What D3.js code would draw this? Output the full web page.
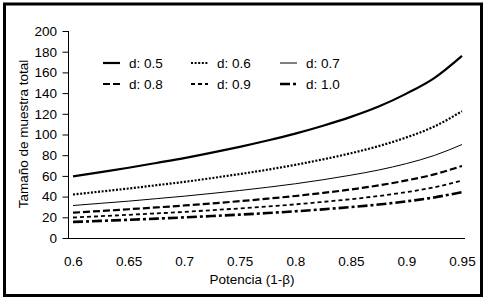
<!DOCTYPE html>
<html>
<head>
<meta charset="utf-8">
<script src="https://cdn.jsdelivr.net/npm/d3@7"></script>
<style>
  html, body { margin: 0; padding: 0; background: #fff; }
  svg { display: block; }
  text { font-family: "Liberation Sans", Arial, sans-serif; fill: #000; }
</style>
</head>
<body>
<svg id="chart" width="488" height="302"></svg>
<script>
// ---- data ----
const power = [0.6, 0.625, 0.65, 0.675, 0.7, 0.725, 0.75, 0.775, 0.8, 0.825, 0.85, 0.875, 0.9, 0.925, 0.95];
const xTicks = [0.6, 0.65, 0.7, 0.75, 0.8, 0.85, 0.9, 0.95];
const xTickLabels = ["0.6", "0.65", "0.7", "0.75", "0.8", "0.85", "0.9", "0.95"];
const yTicks = [0, 20, 40, 60, 80, 100, 120, 140, 160, 180, 200];
const seriesNames = ["d: 0.5", "d: 0.6", "d: 0.7", "d: 0.8", "d: 0.9", "d: 1.0"];
const d05 = [59.6, 63.7, 67.9, 72.5, 77.2, 82.5, 88.1, 94.2, 100.9, 108.5, 117, 127, 139.5, 154.5, 176];
const d06 = [42, 44.9, 47.8, 51, 54.2, 57.9, 61.8, 66, 70.7, 76, 81.9, 88.8, 97.2, 107.7, 122.5];
const d07 = [31.4, 33.5, 35.6, 38, 40.4, 43.1, 45.9, 49, 52.4, 56.3, 60.7, 65.7, 71.9, 79.7, 90.3];
const d08 = [24.5, 26.1, 27.8, 29.5, 31.4, 33.4, 35.6, 38, 40.6, 43.6, 46.9, 50.8, 55.6, 61.5, 69.6];
const d09 = [19.8, 21.1, 22.4, 23.8, 25.2, 26.9, 28.6, 30.5, 32.5, 34.9, 37.5, 40.6, 44.3, 49, 55.4];
const d10 = [15.5, 16.5, 17.6, 18.7, 19.9, 21.2, 22.6, 24.1, 25.8, 27.7, 29.9, 32.3, 35.4, 39.2, 44.4];
const seriesValues = [d05, d06, d07, d08, d09, d10];

// ---- styles ----
const styles = [
  { w: 2.2, dash: null },
  { w: 2.2, dash: "2,1.6" },
  { w: 1, dash: null },
  { w: 2.2, dash: "7,3" },
  { w: 1.8, dash: "4,3" },
  { w: 2.6, dash: "10,3,3,3" }
];

const svg = d3.select("#chart");

// outer frame
svg.append("rect")
  .attr("x", 4.5).attr("y", 4)
  .attr("width", 477).attr("height", 291.5)
  .attr("fill", "none").attr("stroke", "#000").attr("stroke-width", 3);

const x = d3.scaleLinear().domain([0.6, 0.95]).range([73, 462]);
const y = d3.scaleLinear().domain([0, 200]).range([238, 31]);

// y axis
const yAxis = d3.axisLeft(y).tickValues(yTicks).tickSize(6).tickPadding(5);
const gy = svg.append("g").attr("transform", "translate(68,0)").call(yAxis);
gy.select(".domain").attr("d", `M0.5,${y(200)}V${y(0)}`).attr("stroke", "#000");
gy.selectAll(".tick line").attr("stroke", "#000").attr("x1", 0.5).attr("x2", -5.5);
gy.selectAll(".tick text").attr("font-size", "13.5px").attr("font-family", "Liberation Sans, Arial, sans-serif").attr("fill", "#000");

// x axis
const xAxis = d3.axisBottom(x).tickValues(xTicks).tickFormat((d, i) => xTickLabels[i]).tickSize(0).tickPadding(18);
const gx = svg.append("g").attr("transform", `translate(0,${y(0)})`).call(xAxis);
gx.select(".domain").attr("d", "M68,0.5H465").attr("stroke", "#000");
gx.selectAll(".tick text").attr("font-size", "13.5px").attr("font-family", "Liberation Sans, Arial, sans-serif").attr("fill", "#000");

// axis titles
svg.append("text")
  .attr("x", 252).attr("y", 284)
  .attr("text-anchor", "middle")
  .attr("font-size", "13.5px")
  .text("Potencia (1-β)");

svg.append("text")
  .attr("transform", "translate(28,134) rotate(-90)")
  .attr("text-anchor", "middle")
  .attr("font-size", "13.5px")
  .text("Tamaño de muestra total");

// lines
const line = d3.line()
  .x((d, i) => x(power[i]))
  .y(d => y(d))
  .curve(d3.curveMonotoneX);

seriesValues.forEach((vals, k) => {
  svg.append("path")
    .datum(vals)
    .attr("d", line)
    .attr("fill", "none")
    .attr("stroke", "#000")
    .attr("stroke-width", styles[k].w)
    .attr("stroke-dasharray", styles[k].dash);
});

// legend
const legendCols = [129, 217, 306];
const legendRows = [63, 84];
seriesNames.forEach((name, k) => {
  const cx = legendCols[k % 3];
  const cy = legendRows[Math.floor(k / 3)];
  svg.append("line")
    .attr("x1", cx - 26).attr("x2", cx - 9)
    .attr("y1", cy).attr("y2", cy)
    .attr("stroke", "#000")
    .attr("stroke-width", styles[k].w)
    .attr("stroke-dasharray", styles[k].dash);
  svg.append("text")
    .attr("x", cx).attr("y", cy + 5)
    .attr("font-size", "13.5px")
    .text(name);
});
</script>
</body>
</html>
